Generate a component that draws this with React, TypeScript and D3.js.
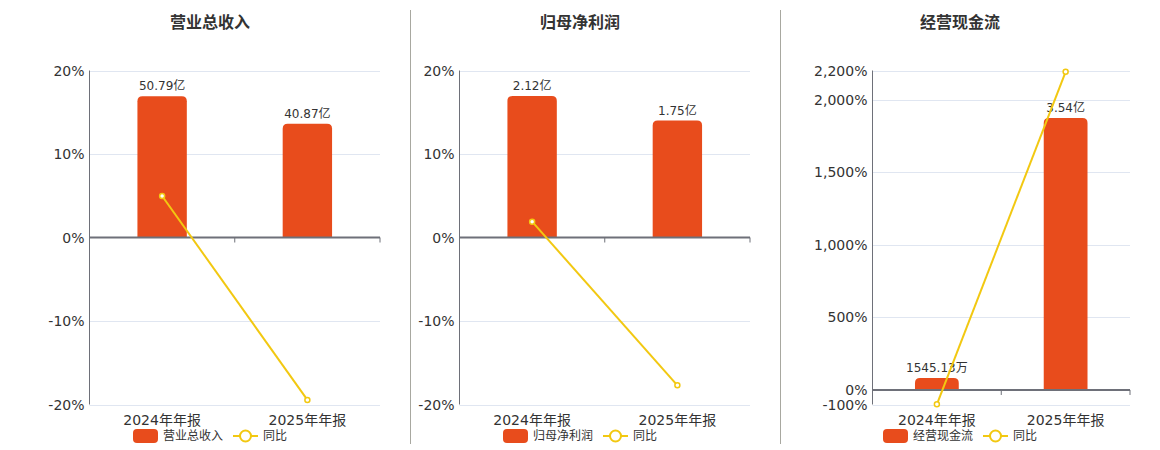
import React, { useEffect, useRef } from 'react';
import * as d3 from 'd3';

// categories and values
const categories = ['2024年年报', '2025年年报'];

const revenue = [50.79, 40.87];
const revenueLabels = ['50.79亿', '40.87亿'];
const revenueYoy = [4.97, -19.45];

const profit = [2.12, 1.75];
const profitLabels = ['2.12亿', '1.75亿'];
const profitYoy = [1.9, -17.7];

const cashflow = [0.154513, 3.54];
const cashflowLabels = ['1545.13万', '3.54亿'];
const cashflowYoy = [-98.6, 2191];

const pctTicksSmall = [-20, -10, 0, 10, 20];
const pctTicksCash = [-100, 0, 500, 1000, 1500, 2000, 2200];

// hidden bar axis maximum, matched to the top of the percent axis
const barAxisMax = [60, 2.5, 4.16];

const titles = ['营业总收入', '归母净利润', '经营现金流'];

const BAR = '#E84C1C';
const LINE = '#F2C811';
const AXIS = '#6E7079';
const GRID = '#E0E6F1';
const TEXT = '#333';
const FONT = '"DejaVu Sans", "Noto Sans CJK SC", sans-serif';

const panels = [
    { title: titles[0], bars: revenue, labels: revenueLabels, yoy: revenueYoy, ticks: pctTicksSmall, barMax: barAxisMax[0], left: 89.5, right: 380, center: 210 },
    { title: titles[1], bars: profit, labels: profitLabels, yoy: profitYoy, ticks: pctTicksSmall, barMax: barAxisMax[1], left: 459.5, right: 750, center: 580 },
    { title: titles[2], bars: cashflow, labels: cashflowLabels, yoy: cashflowYoy, ticks: pctTicksCash, barMax: barAxisMax[2], left: 872.5, right: 1130, center: 960 },
];

const fmtPct = (d: number) => d3.format(',')(d).replace('\u2212', '-') + '%';

export default function App() {
    const ref = useRef<SVGSVGElement | null>(null);

    useEffect(() => {
        const svg = d3.select(ref.current);
        svg.selectAll('*').remove();
        const width = 1160, height = 450, top = 70.5, bottom = 404.5;

        svg.attr('viewBox', `0 0 ${width} ${height}`).style('font-family', FONT);

        // dividers between the panels
        [410.5, 780.5].forEach(x => {
            svg.append('line').attr('x1', x).attr('x2', x).attr('y1', 10).attr('y2', 444)
                .attr('stroke', '#A8A8A0').attr('stroke-width', 1);
        });

        panels.forEach(p => {
            const g = svg.append('g');
            const x = d3.scaleBand().domain(categories).range([p.left, p.right]);
            const y = d3.scaleLinear().domain([d3.min(p.ticks)!, d3.max(p.ticks)!]).range([bottom, top]);
            const yb = d3.scaleLinear().domain([0, p.barMax]).range([y(0), y(d3.max(p.ticks)!)]);
            const bw = x.bandwidth() * 0.34;

            g.append('text').attr('x', p.center).attr('y', 28).attr('text-anchor', 'middle')
                .attr('font-size', 16).attr('font-weight', 'bold').attr('fill', TEXT).text(p.title);

            // grid lines
            g.selectAll('.grid').data(p.ticks.filter(t => t !== 0)).join('line')
                .attr('x1', p.left).attr('x2', p.right)
                .attr('y1', d => Math.round(y(d)) + 0.5).attr('y2', d => Math.round(y(d)) + 0.5)
                .attr('stroke', GRID).attr('stroke-width', 1);

            // y tick labels
            g.selectAll('.ylab').data(p.ticks).join('text')
                .attr('x', p.left - 5).attr('y', d => y(d)).attr('dy', '0.36em')
                .attr('text-anchor', 'end').attr('font-size', 14).attr('fill', TEXT)
                .text(d => fmtPct(d));

            // bars with rounded tops
            const r = 5;
            g.selectAll('.bar').data(p.bars).join('path')
                .attr('fill', BAR)
                .attr('d', (d, i) => {
                    const cx = x(categories[i])! + x.bandwidth() / 2;
                    const x0 = cx - bw / 2, x1 = cx + bw / 2;
                    const y0 = yb(0), y1 = yb(d);
                    const rr = Math.min(r, (y0 - y1) / 2);
                    return `M${x0},${y0}V${y1 + rr}Q${x0},${y1} ${x0 + rr},${y1}H${x1 - rr}Q${x1},${y1} ${x1},${y1 + rr}V${y0}Z`;
                });

            g.selectAll('.blab').data(p.bars).join('text')
                .attr('x', (d, i) => x(categories[i])! + x.bandwidth() / 2)
                .attr('y', d => yb(d) - 6).attr('text-anchor', 'middle')
                .attr('font-size', 12).attr('fill', TEXT)
                .text((d, i) => p.labels[i]);

            // y axis line
            g.append('line').attr('x1', p.left).attr('x2', p.left).attr('y1', top).attr('y2', bottom)
                .attr('stroke', AXIS).attr('stroke-width', 1);

            // x axis at zero
            g.append('line').attr('x1', p.left).attr('x2', p.right).attr('y1', y(0)).attr('y2', y(0))
                .attr('stroke', AXIS).attr('stroke-width', 2);
            g.selectAll('.tick').data(categories).join('line')
                .attr('x1', d => x(d)! + x.bandwidth()).attr('x2', d => x(d)! + x.bandwidth())
                .attr('y1', y(0)).attr('y2', y(0) + 5)
                .attr('stroke', AXIS).attr('stroke-width', 1);

            g.selectAll('.xlab').data(categories).join('text')
                .attr('x', d => x(d)! + x.bandwidth() / 2).attr('y', 420).attr('dy', '0.36em')
                .attr('text-anchor', 'middle').attr('font-size', 14).attr('fill', TEXT)
                .text(d => d);

            // yoy line
            const line = d3.line<number>()
                .x((d, i) => x(categories[i])! + x.bandwidth() / 2)
                .y(d => y(d));
            g.append('path').datum(p.yoy).attr('fill', 'none').attr('stroke', LINE)
                .attr('stroke-width', 2).attr('d', line);
            g.selectAll('.pt').data(p.yoy).join('circle')
                .attr('cx', (d, i) => x(categories[i])! + x.bandwidth() / 2)
                .attr('cy', d => y(d)).attr('r', 2.5)
                .attr('fill', '#fff').attr('stroke', LINE).attr('stroke-width', 1.5);

            // legend
            const nameW = p.title.length * 12;
            const total = 25 + 5 + nameW + 10 + 25 + 5 + 24;
            const lx = p.center - total / 2, ly = 436;
            const lg = g.append('g');
            lg.append('rect').attr('x', lx).attr('y', ly - 7).attr('width', 25).attr('height', 14)
                .attr('rx', 4).attr('fill', BAR);
            lg.append('text').attr('x', lx + 30).attr('y', ly).attr('dy', '0.36em')
                .attr('font-size', 12).attr('fill', TEXT).text(p.title);
            const l2 = lx + 30 + nameW + 10;
            lg.append('line').attr('x1', l2).attr('x2', l2 + 25).attr('y1', ly).attr('y2', ly)
                .attr('stroke', LINE).attr('stroke-width', 2);
            lg.append('circle').attr('cx', l2 + 12.5).attr('cy', ly).attr('r', 5.5)
                .attr('fill', '#fff').attr('stroke', LINE).attr('stroke-width', 2);
            lg.append('text').attr('x', l2 + 30).attr('y', ly).attr('dy', '0.36em')
                .attr('font-size', 12).attr('fill', TEXT).text('同比');
        });
    }, []);

    return <svg ref={ref} width={1160} height={450} style={{ position: 'absolute', left: 0, top: 0 }} />;
}
